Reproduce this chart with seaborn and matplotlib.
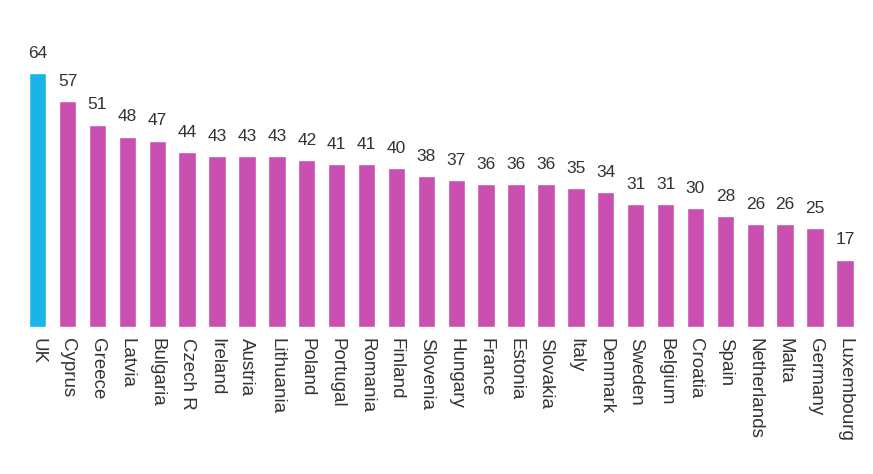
import matplotlib
matplotlib.use("Agg")
import matplotlib.pyplot as plt
import seaborn as sns
import pandas as pd

countries = ["UK", "Cyprus", "Greece", "Latvia", "Bulgaria", "Czech R", "Ireland",
             "Austria", "Lithuania", "Poland", "Portugal", "Romania", "Finland",
             "Slovenia", "Hungary", "France", "Estonia", "Slovakia", "Italy",
             "Denmark", "Sweden", "Belgium", "Croatia", "Spain", "Netherlands",
             "Malta", "Germany", "Luxembourg"]
values = [64, 57, 51, 48, 47, 44, 43, 43, 43, 42, 41, 41, 40, 38, 37, 36, 36, 36,
          35, 34, 31, 31, 30, 28, 26, 26, 25, 17]

highlight_color = "#1ab4e8"
bar_color = "#c94fb0"

df = pd.DataFrame({"country": countries, "value": values})
palette = {c: (highlight_color if c == "UK" else bar_color) for c in countries}

sns.set_theme(style="white")
plt.rcParams["font.family"] = ["Liberation Sans", "DejaVu Sans"]

fig = plt.figure(figsize=(8.73, 4.74), dpi=100)
ax = fig.add_axes([0.026, 0.31, 0.959, 0.628])
sns.barplot(data=df, x="country", y="value", hue="country", palette=palette,
            width=0.58, legend=False, ax=ax, saturation=1)

for i, v in enumerate(values):
    ax.annotate(str(v), (i, v), xytext=(0, 11), textcoords="offset points",
                ha="center", va="baseline", fontsize=12.5, color="#333333")

ax.set_ylim(0, 75)
ax.set_xlim(-0.5, len(countries) - 0.5)
ax.set_xlabel("")
ax.set_ylabel("")
ax.set_yticks([])
ax.tick_params(axis="x", length=0, pad=8)
plt.setp(ax.get_xticklabels(), rotation=-90, ha="center", va="top",
         fontsize=13.5, color="#333333")
for s in ax.spines.values():
    s.set_visible(False)

fig.savefig("out.png", dpi=100, facecolor="white")
